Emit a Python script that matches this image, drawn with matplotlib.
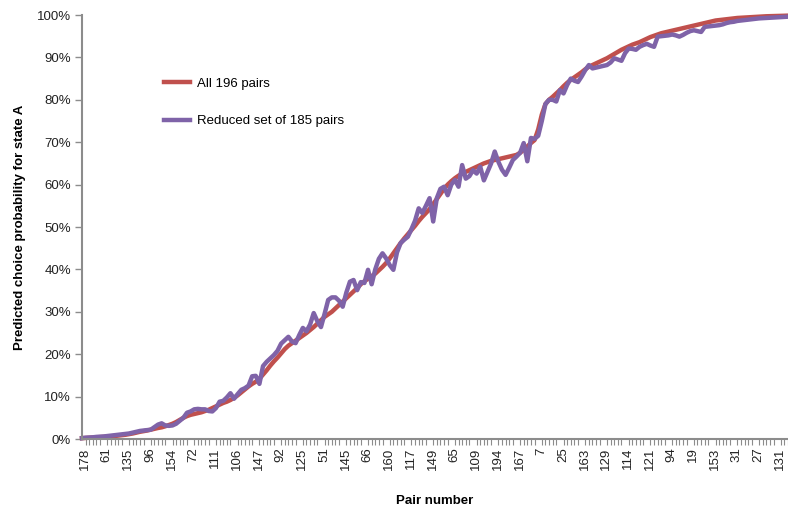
import matplotlib
matplotlib.use("Agg")
import matplotlib.pyplot as plt
import matplotlib.transforms as mtransforms
import numpy as np

plt.rcParams['font.family'] = ['Liberation Sans', 'DejaVu Sans']

# Predicted choice probability (%) for each of the 196 pairs, ordered by the full-model prediction
all_196 = [
    0.2, 0.25, 0.3, 0.35, 0.4, 0.45, 0.5, 0.55, 0.65, 0.7,
    0.8, 0.9, 1.0, 1.15, 1.3, 1.5, 1.7, 1.85, 2.0, 2.2,
    2.4, 2.6, 2.75, 3.0, 3.3, 3.6, 4.0, 4.5, 5.0, 5.4,
    5.7, 5.9, 6.1, 6.3, 6.6, 6.9, 7.3, 7.7, 8.1, 8.5,
    8.8, 9.2, 9.7, 10.3, 11.0, 11.7, 12.4, 13.0, 13.5, 14.2,
    15.2, 16.2, 17.3, 18.3, 19.2, 20.2, 21.2, 22.0, 22.6, 23.2,
    23.8, 24.4, 25.0, 25.7, 26.4, 27.2, 28.0, 28.8, 29.4, 30.0,
    30.8, 31.6, 32.4, 33.2, 34.0, 34.8, 35.6, 36.5, 37.2, 37.8,
    38.4, 39.0, 39.8, 40.6, 41.5, 42.6, 43.8, 45.0, 46.2, 47.3,
    48.3, 49.3, 50.3, 51.4, 52.4, 53.3, 54.2, 55.4, 56.6, 57.8,
    59.0, 60.0, 60.8, 61.5, 62.1, 62.6, 63.0, 63.4, 63.8, 64.2,
    64.6, 65.0, 65.3, 65.6, 65.8, 66.0, 66.2, 66.4, 66.6, 66.8,
    67.0, 67.5, 68.2, 69.0, 69.8, 70.5, 73.0, 76.5, 79.0, 80.0,
    80.7, 81.5, 82.3, 83.2, 84.0, 84.7, 85.3, 85.9, 86.5, 87.2,
    87.8, 88.2, 88.6, 89.0, 89.4, 89.8, 90.3, 90.8, 91.3, 91.8,
    92.2, 92.6, 93.0, 93.3, 93.6, 94.0, 94.4, 94.8, 95.1, 95.4,
    95.7, 95.9, 96.1, 96.3, 96.5, 96.7, 96.9, 97.1, 97.3, 97.5,
    97.7, 97.9, 98.1, 98.3, 98.5, 98.7, 98.8, 98.9, 99.0, 99.1,
    99.2, 99.3, 99.35, 99.4, 99.45, 99.5, 99.55, 99.6, 99.65, 99.7,
    99.72, 99.75, 99.78, 99.8, 99.82, 99.85,
]

reduced_185 = [
    0.2, 0.3, 0.35, 0.4, 0.5, 0.55, 0.6, 0.7, 0.8, 0.9,
    1.0, 1.1, 1.2, 1.3, 1.5, 1.7, 1.9, 2.0, 2.1, 2.2,
    2.8, 3.4, 3.7, 3.2, 3.1, 3.2, 3.6, 4.3, 5.0, 6.2,
    6.5, 7.0, 7.1, 7.0, 7.0, 6.6, 6.5, 7.3, 8.8, 9.0,
    9.8, 10.8, 9.5, 10.6, 11.6, 12.0, 12.6, 14.8, 14.9, 13.0,
    17.2, 18.2, 19.0, 19.8, 20.8, 22.5, 23.3, 24.1, 23.0, 22.6,
    24.5, 26.2, 25.4, 27.0, 29.7, 27.8, 26.4, 29.5, 32.8, 33.4,
    33.4, 32.6, 31.2, 34.5, 37.1, 37.5, 35.1, 37.0, 36.8, 39.9,
    36.5, 40.0, 42.5, 43.8, 42.6, 41.0, 39.9, 44.0, 46.2, 47.0,
    47.7, 49.5, 51.5, 54.4, 53.3, 55.0, 56.8, 51.3, 56.8, 59.0,
    59.5, 57.5, 60.0, 61.1, 59.5, 64.6, 61.4, 62.0, 63.4, 62.6,
    64.2, 61.0, 63.0, 65.0, 67.8, 65.4, 63.5, 62.3, 64.0, 65.8,
    66.6, 67.5, 69.8, 65.5, 71.0, 70.8, 71.5, 75.0, 79.0, 80.0,
    80.0, 79.6, 82.3, 81.5, 83.5, 85.0, 84.5, 84.2, 85.5, 87.0,
    88.2, 87.4, 87.6, 87.8, 88.0, 88.2, 88.8, 89.8, 89.5, 89.2,
    91.0, 92.1, 92.0, 91.8, 92.5, 92.9, 93.2, 92.8, 92.5, 94.9,
    95.0, 95.1, 95.2, 95.4, 95.2, 94.9, 95.3, 95.8, 96.2, 96.4,
    96.2, 96.0, 97.2, 97.3, 97.4, 97.5, 97.6, 97.8, 98.1, 98.3,
    98.4, 98.6, 98.7, 98.8, 98.9, 99.0, 99.1, 99.2, 99.25, 99.3,
    99.35, 99.4, 99.45, 99.5, 99.55, 99.6,
]

# Pair numbers shown on the category axis (every sixth pair)
tick_labels = ["178", "61", "135", "96", "154", "72", "111", "106", "147", "92",
               "125", "51", "145", "66", "160", "117", "149", "65", "109", "194",
               "167", "7", "25", "163", "129", "114", "121", "94", "19", "153",
               "31", "27", "131"]
tick_step = 6

red = "#C0504D"
purple = "#7F63A8"
axis_grey = "#8C8C8C"

fig = plt.figure(figsize=(7.88, 5.11), dpi=100)
ax = fig.add_axes([82 / 788, 72 / 511, 706 / 788, 424 / 511])

n = len(all_196)
x = np.arange(n)
ax.plot(x, np.array(all_196) / 100, color=red, lw=3.2, label="All 196 pairs",
        solid_joinstyle="round", clip_on=False)
ax.plot(x, np.array(reduced_185) / 100, color=purple, lw=3.2,
        label="Reduced set of 185 pairs", solid_joinstyle="round", clip_on=False)

ax.set_xlim(0, n - 1)
ax.set_ylim(0, 1.0)

yt = np.linspace(0, 1, 11)
ax.set_yticks(yt)
ax.set_yticklabels([f"{int(round(v * 100))}%" for v in yt], fontsize=9.5)
ax.tick_params(axis="y", direction="out", length=5, color=axis_grey, width=1,
               pad=3, labelcolor="#222222")

ax.set_xticks(np.arange(0, n, tick_step)[:len(tick_labels)])
ax.set_xticklabels(tick_labels, rotation=90, fontsize=9.5)
ax.set_xticks(np.arange(0, n, 1), minor=True)
ax.tick_params(axis="x", which="major", length=0, pad=6, labelcolor="#222222")
ax.tick_params(axis="x", which="minor", direction="out", length=4,
               color=axis_grey, width=0.8)

shift = mtransforms.ScaledTranslation(3 / 100, 0, fig.dpi_scale_trans)
for lab in ax.get_xticklabels():
    lab.set_transform(lab.get_transform() + shift)

for side in ("top", "right"):
    ax.spines[side].set_visible(False)
for side in ("left", "bottom"):
    ax.spines[side].set_color(axis_grey)
    ax.spines[side].set_linewidth(1.5)

ax.set_ylabel("Predicted choice probability for state A", fontsize=9.5,
              fontweight="bold", labelpad=8)
ax.set_xlabel("Pair number", fontsize=9.5, fontweight="bold", labelpad=18)

ax.legend(loc="upper left", bbox_to_anchor=(0.1, 0.88), frameon=False,
          fontsize=9.5, labelspacing=1.9, handlelength=1.9, handletextpad=0.6)

fig.savefig("out.png", dpi=100)
